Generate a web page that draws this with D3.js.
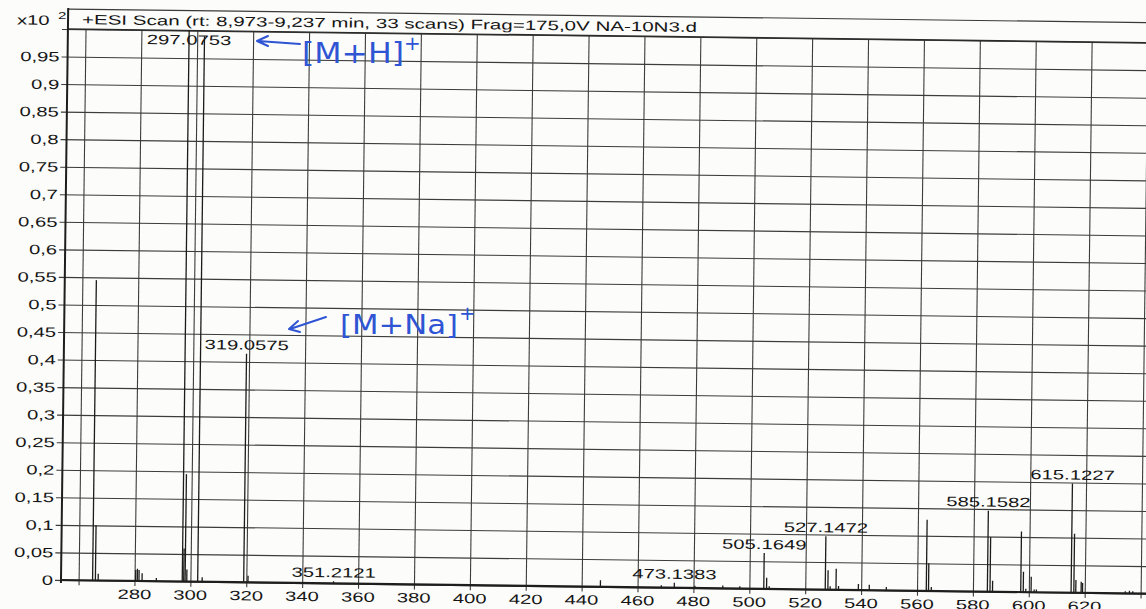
<!DOCTYPE html>
<html>
<head>
<meta charset="utf-8">
<script src="https://cdn.jsdelivr.net/npm/d3@7"></script>
<style>
  html, body { margin: 0; padding: 0; background: #fcfcfa; }
  svg text { font-family: Arial, "Liberation Sans", sans-serif; fill: #161616; }
</style>
</head>
<body>
<div id="spec"></div>
<script>
// peaks (m/z , intensity in x10^2 counts)
var mz = [265.0, 266.0, 267.0, 280.4, 281.0, 281.6, 282.7, 287.8,
          297.08, 297.6, 298.1, 298.7, 302.6, 304.2, 319.06, 320.6,
          351.21, 446.7, 468.5, 473.14, 480.5, 490.5, 496.6,
          505.16, 506.16, 507.1, 527.15, 528.1, 528.9, 531.0, 531.9,
          539.0, 542.9, 549.0, 563.3, 564.1, 565.1, 585.16, 586.1, 587.0,
          597.1, 598.0, 598.9, 600.8, 601.9, 602.7, 615.12, 616.1, 616.8,
          618.7, 619.2, 634.5, 636.0, 637.2];
var intensity = [0.545, 0.10, 0.012, 0.02, 0.022, 0.02, 0.014, 0.006,
                 1.0, 0.06, 0.195, 0.022, 0.99, 0.008, 0.415, 0.012,
                 0.004, 0.012, 0.004, 0.009, 0.004, 0.005, 0.004,
                 0.065, 0.02, 0.005, 0.097, 0.035, 0.006, 0.038, 0.007,
                 0.011, 0.01, 0.006, 0.129, 0.05, 0.007, 0.147, 0.099, 0.02,
                 0.11, 0.037, 0.006, 0.028, 0.005, 0.005, 0.198, 0.107, 0.023,
                 0.02, 0.018, 0.004, 0.005, 0.004];
var labelMz = [297.0753, 319.0575, 351.2121, 473.1383, 505.1649, 527.1472, 585.1582, 615.1227];
var labelInt = [1.0, 0.415, 0.004, 0.009, 0.065, 0.097, 0.147, 0.198];
var xTicks = d3.range(260, 641, 20);
var xTickLabels = [280, 300, 320, 340, 360, 380, 400, 420, 440, 460, 480, 500, 520, 540, 560, 580, 600, 620];
var yTicks = [0, 0.05, 0.1, 0.15, 0.2, 0.25, 0.3, 0.35, 0.4, 0.45, 0.5, 0.55, 0.6, 0.65, 0.7, 0.75, 0.8, 0.85, 0.9, 0.95];
var yTickLabels = ["0", "0,05", "0,1", "0,15", "0,2", "0,25", "0,3", "0,35", "0,4", "0,45", "0,5", "0,55", "0,6", "0,65", "0,7", "0,75", "0,8", "0,85", "0,9", "0,95"];
var title = "+ESI Scan (rt: 8,973-9,237 min, 33 scans) Frag=175,0V NA-10N3.d";

var width = 1146, height = 609;
var plotLeft = 61, plotBottom = 580, plotTop = 29;
var stretch = 1.5;   // scan is wider than tall, text looks stretched
var fs = "13.5px";

var svg = d3.select("#spec").append("svg")
    .attr("width", width)
    .attr("height", height);

svg.append("rect").attr("width", width).attr("height", height).attr("fill", "#fcfcfa");

// whole printout sits slightly rotated on the scanner
var g = svg.append("g").attr("transform", "rotate(0.72," + plotLeft + "," + plotBottom + ")");

var x = d3.scaleLinear().domain([253.7, 641.9]).range([plotLeft, width]);
var y = d3.scaleLinear().domain([0, 1]).range([plotBottom, plotTop]);

// grid via axes
var yAxis = d3.axisLeft(y).tickValues(yTicks.concat([1])).tickSize(6).tickFormat("");
g.append("g")
  .attr("transform", "translate(" + plotLeft + ",0)")
  .call(yAxis)
  .call(function(a) {
    a.select(".domain").remove();
    a.selectAll(".tick line").attr("stroke", "#3c3c3c").attr("stroke-width", 1.1)
      .attr("x1", -6).attr("x2", width - plotLeft + 10);
  });

var xAxis = d3.axisBottom(x).tickValues(xTicks).tickSize(5).tickFormat("");
g.append("g")
  .attr("transform", "translate(0," + plotBottom + ")")
  .call(xAxis)
  .call(function(a) {
    a.select(".domain").remove();
    a.selectAll(".tick line").attr("stroke", "#3c3c3c").attr("stroke-width", 1.1)
      .attr("y1", 5).attr("y2", plotTop - plotBottom);
  });

// tick labels, drawn by hand so they can be stretched
g.selectAll(".ylab").data(yTicks).enter().append("text")
  .attr("class", "ylab")
  .attr("transform", function(d) { return "translate(53," + (y(d) + 5) + ") scale(" + stretch + ",1)"; })
  .attr("text-anchor", "end")
  .style("font-size", fs)
  .text(function(d, i) { return yTickLabels[i]; });

g.selectAll(".xlab").data(xTickLabels).enter().append("text")
  .attr("class", "xlab")
  .attr("transform", function(d) { return "translate(" + x(d) + ",598) scale(" + stretch + ",1)"; })
  .attr("text-anchor", "middle")
  .style("font-size", fs)
  .text(function(d) { return d; });

// header box
g.append("line").attr("x1", plotLeft).attr("x2", width + 10).attr("y1", 9).attr("y2", 9)
  .attr("stroke", "#3a3a3a").attr("stroke-width", 1.2);
g.append("line").attr("x1", plotLeft).attr("x2", width + 10).attr("y1", plotTop).attr("y2", plotTop)
  .attr("stroke", "#2a2a2a").attr("stroke-width", 1.4);
g.append("text").attr("transform", "translate(10,25) scale(" + stretch + ",1)")
  .style("font-size", fs).text("x10");
g.append("text").attr("transform", "translate(51,19) scale(" + stretch + ",1)")
  .style("font-size", "10px").text("2");
g.append("text").attr("x", 75).attr("y", 24)
  .attr("textLength", 615).attr("lengthAdjust", "spacingAndGlyphs")
  .style("font-size", fs).text(title);

// peaks
var peaks = mz.map(function(m, i) { return {mz: m, v: intensity[i]}; });
g.selectAll(".peak").data(peaks).enter().append("line")
  .attr("class", "peak")
  .attr("x1", function(d) { return x(d.mz); })
  .attr("x2", function(d) { return x(d.mz); })
  .attr("y1", y(0))
  .attr("y2", function(d) { return y(d.v); })
  .attr("stroke", "#1c1c1c")
  .attr("stroke-width", 1.3);

// axes lines on top
g.append("line").attr("x1", plotLeft).attr("x2", plotLeft).attr("y1", 8).attr("y2", plotBottom + 3)
  .attr("stroke", "#1e1e1e").attr("stroke-width", 2);
g.append("line").attr("x1", plotLeft).attr("x2", width + 10).attr("y1", plotBottom).attr("y2", plotBottom)
  .attr("stroke", "#1e1e1e").attr("stroke-width", 2.2);

// peak labels
var labels = labelMz.map(function(m, i) { return {mz: m, v: labelInt[i]}; });
g.selectAll(".plab").data(labels).enter().append("text")
  .attr("class", "plab")
  .attr("transform", function(d) {
    var ly = Math.max(y(d.v) - 4, plotTop + 14);
    return "translate(" + x(d.mz) + "," + ly + ") scale(" + stretch + ",1)";
  })
  .attr("text-anchor", "middle")
  .style("font-size", fs)
  .text(function(d) { return d3.format(".4f")(d.mz); });

// handwritten notes (blue pen)
var pen = "#2f55d4";
var notes = svg.append("g").attr("fill", "none").attr("stroke", pen)
  .attr("stroke-width", 2).attr("stroke-linecap", "round").attr("stroke-linejoin", "round");
notes.append("path").attr("d", "M300,44 L258,41 M268,36 L257,41 L268,46");
notes.append("path").attr("d", "M326,317 L290,329 M298,321 L289,329 L300,332");

svg.append("text").attr("x", 302).attr("y", 63)
  .attr("textLength", 102).attr("lengthAdjust", "spacingAndGlyphs")
  .style("font-size", "28px").style("fill", pen)
  .style("font-family", "'DejaVu Sans', sans-serif")
  .text("[M+H]");
svg.append("text").attr("x", 404).attr("y", 50)
  .style("font-size", "20px").style("fill", pen).style("font-family", "'DejaVu Sans', sans-serif")
  .text("+");
svg.append("text").attr("x", 340).attr("y", 334)
  .attr("textLength", 118).attr("lengthAdjust", "spacingAndGlyphs")
  .style("font-size", "26px").style("fill", pen)
  .style("font-family", "'DejaVu Sans', sans-serif")
  .text("[M+Na]");
svg.append("text").attr("x", 459).attr("y", 320)
  .style("font-size", "20px").style("fill", pen).style("font-family", "'DejaVu Sans', sans-serif")
  .text("+");
</script>
</body>
</html>
